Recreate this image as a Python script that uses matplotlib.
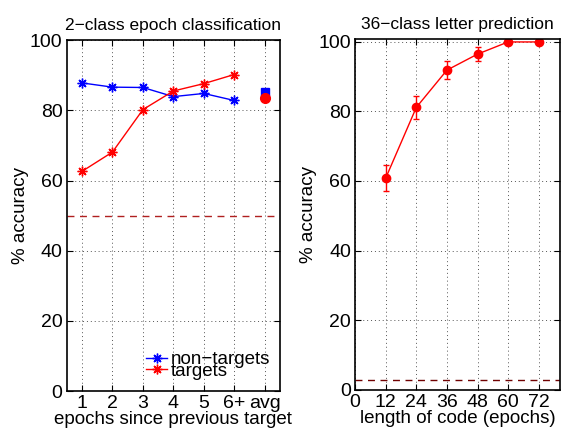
import numpy as np
import matplotlib.pyplot as plt

plt.rcParams['font.family'] = ['Liberation Sans', 'DejaVu Sans']
plt.rcParams['font.size'] = 13.5

# left panel data
epoch_labels = ['1', '2', '3', '4', '5', '6+', 'avg']
epochs = [1, 2, 3, 4, 5, 6]
nontargets = [87.8, 86.6, 86.5, 83.9, 84.8, 82.8]
targets = [62.6, 68.1, 80.2, 85.5, 87.6, 90.2]
nontarget_avg = 85.2
target_avg = 83.6
chance_2class = 50

# right panel data
code_len = [12, 24, 36, 48, 60, 72]
letter_acc = [60.8, 81.1, 91.8, 96.4, 99.9, 99.9]
letter_err = [3.8, 3.4, 2.6, 2.0, 0.0, 0.0]
chance_36class = 100 / 36

star = (8, 2, 0)

fig = plt.figure(figsize=(5.61, 4.36), dpi=100)
ax1 = fig.add_axes([0.119, 0.103, 0.380, 0.805])
ax2 = fig.add_axes([0.633, 0.106, 0.365, 0.805])

ax1.plot(epochs, nontargets, color='b', marker=star, lw=1, ms=7, mew=1,
         label='non\u2212targets')
ax1.plot(epochs, targets, color='r', marker=star, lw=1, ms=7, mew=1,
         label='targets')
ax1.plot(7, nontarget_avg, 'bs', ms=6)
ax1.plot(7, target_avg, 'ro', ms=7)
ax1.axhline(chance_2class, color='#b02020', ls='--', lw=1, dashes=(5, 4))
ax1.set_xlim(0.5, 7.5)
ax1.set_ylim(0, 100)
ax1.set_xticks(range(1, 8))
ax1.set_xticklabels(epoch_labels)
ax1.set_yticks(range(0, 101, 20))
ax1.set_xlabel('epochs since previous target', labelpad=-1)
ax1.set_ylabel('% accuracy', labelpad=1)
ax1.set_title('2\u2212class epoch classification', fontsize=12.5, pad=7)
ax1.legend(loc='lower left', bbox_to_anchor=(0.33, 0.005), frameon=False,
           handlelength=1.1, handletextpad=0.2, labelspacing=-0.3,
           borderpad=0, fontsize=13.5)

ax2.errorbar(code_len, letter_acc, yerr=letter_err, fmt='r-o', lw=1, ms=6,
             capsize=2, elinewidth=1)
ax2.axhline(chance_36class, color='#700000', ls='--', lw=1, dashes=(5, 4))
ax2.set_xlim(0, 80.3)
ax2.set_ylim(0, 100.8)
ax2.set_xticks(range(0, 73, 12))
ax2.set_yticks(range(0, 101, 20))
ax2.set_xlabel('length of code (epochs)', labelpad=-1)
ax2.set_ylabel('% accuracy', labelpad=1)
ax2.set_title('36\u2212class letter prediction', fontsize=12.5, pad=7)

for ax in (ax1, ax2):
    ax.grid(True, ls=(0, (1, 3)), color='#555555', lw=0.7)
    ax.tick_params(direction='in', length=4, top=True, right=True,
                   labelsize=14, pad=3)
    for s in ax.spines.values():
        s.set_linewidth(1.2)

fig.savefig('out.png', dpi=100)
